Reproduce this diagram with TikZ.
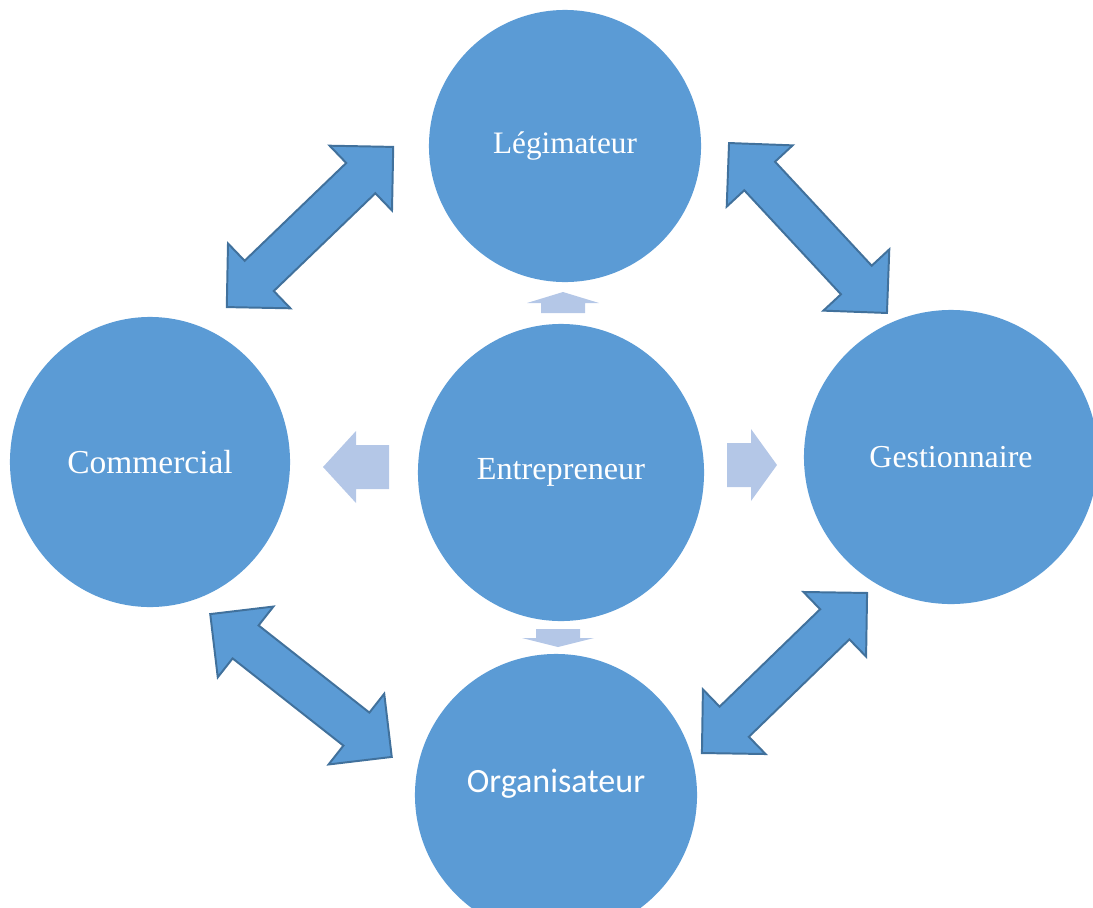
\documentclass[tikz,border=0pt]{standalone}
\usepackage{fontspec}
\setmainfont{Liberation Serif}
\newfontfamily\calibri{Carlito}
\usepackage{tikz}
\usetikzlibrary{shapes.geometric}
\usepackage{xcolor}
\definecolor{roleblue}{HTML}{5B9BD5}
\definecolor{roleedge}{HTML}{41719C}
\definecolor{rolelight}{HTML}{B4C7E7}
\tikzset{
  role/.style={ellipse,fill=roleblue,inner sep=0pt,text=white},
  bigarrow/.style={fill=roleblue,draw=roleedge,line width=1.4pt,line join=miter},
  smallarrow/.style={fill=rolelight},
  pics/twoway/.style={code={
    \draw[bigarrow] ({-#1/2},0) -- ({-#1/2+45},-45) -- ({-#1/2+45},-21) -- ({#1/2-45},-21)
      -- ({#1/2-45},-45) -- ({#1/2},0) -- ({#1/2-45},45) -- ({#1/2-45},21)
      -- ({-#1/2+45},21) -- ({-#1/2+45},45) -- cycle;
  }},
  pics/push/.style n args={2}{code={
    \fill[smallarrow] (0,-22) -- ({#1-#2},-22) -- ({#1-#2},-36) -- (#1,0)
      -- ({#1-#2},36) -- ({#1-#2},22) -- (0,22) -- cycle;
  }},
}
\begin{document}
\begin{tikzpicture}[x=0.025cm,y=-0.025cm]
\useasboundingbox (0,0) rectangle (1093,908);
\node[role,minimum width=6.8cm,minimum height=6.8cm,font=\fontsize{22.2}{26}\selectfont] (leg) at (565,146) {Légimateur};
\node[role,minimum width=7cm,minimum height=7.25cm,font=\fontsize{23.8}{28}\selectfont] (com) at (150,462) {Commercial};
\node[role,minimum width=7.15cm,minimum height=7.425cm,font=\fontsize{22.9}{27}\selectfont] (ent) at (561,472.5) {Entrepreneur};
\node[role,minimum width=7.35cm,minimum height=7.35cm,font=\fontsize{22.7}{27}\selectfont] (ges) at (951,457) {Gestionnaire};
\node[role,minimum width=7.05cm,minimum height=7.05cm,
  label={[text=white,yshift=0.28cm,font=\calibri\fontsize{24.2}{28}\selectfont]center:Organisateur}] (org) at (556,795) {};
% two-way arrows round the ring
\pic[rotate=43.9] at (310,227) {twoway=231};
\pic[rotate=-47.1] at (808,228) {twoway=232};
\pic[rotate=44.1] at (784.5,673) {twoway=230};
\pic[rotate=-38.2] at (301,685.5) {twoway=231};
% light arrows out of the centre
\pic at (727,465) {push={50}{26}};
\pic[rotate=180] at (389,467) {push={66}{33}};
\pic[rotate=90] at (563,313) {push={21}{11}};
\pic[rotate=-90] at (558,629) {push={18}{9}};
\end{tikzpicture}
\end{document}
